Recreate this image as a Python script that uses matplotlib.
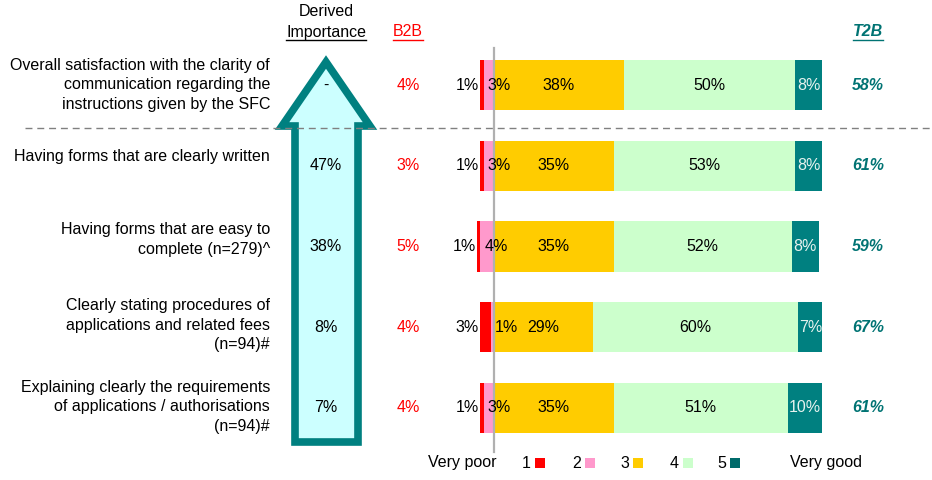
import matplotlib
matplotlib.use("Agg")
import matplotlib.pyplot as plt
from matplotlib.patches import Rectangle, Polygon
from matplotlib.lines import Line2D
import numpy as np

plt.rcParams['font.family'] = ['Liberation Sans', 'DejaVu Sans']

# ---------------- data ----------------
statements = [
    "Overall satisfaction with the clarity of\ncommunication regarding the\ninstructions given by the SFC",
    "Having forms that are clearly written",
    "Having forms that are easy to\ncomplete (n=279)^",
    "Clearly stating procedures of\napplications and related fees\n(n=94)#",
    "Explaining clearly the requirements\nof applications / authorisations\n(n=94)#",
]
derived_importance = ["-", "47%", "38%", "8%", "7%"]
b2b = [4, 3, 5, 4, 4]
t2b = [58, 61, 59, 67, 61]
r1 = [1, 1, 1, 3, 1]
r2 = [3, 3, 4, 1, 3]
r3 = [38, 35, 35, 29, 35]
r4 = [50, 53, 52, 60, 51]
r5 = [8, 8, 8, 7, 10]
scale_labels = ["1", "2", "3", "4", "5"]
colors = ["#ff0000", "#ff99cc", "#ffcc00", "#ccffcc", "#008080"]

W, H = 932, 480
fig = plt.figure(figsize=(W / 100, H / 100), dpi=100)

def px(x, y):
    return (x / W, 1 - y / H)

FS = 11.5
TEAL = "#007373"

# ---------------- bar axes ----------------
ax_l, ax_r, ax_t, ax_b = 440, 900, 40, 460
ax = fig.add_axes([ax_l / W, 1 - ax_b / H, (ax_r - ax_l) / W, (ax_b - ax_t) / H])
ppp = 3.42          # pixels per percent
cx = 494            # centre line pixel
row0, rowstep = 85, 80.75
ax.set_xlim((ax_l - cx) / ppp, (ax_r - cx) / ppp)
ax.set_ylim((ax_b - row0) / rowstep, (ax_t - row0) / rowstep)
ax.axis("off")

y = np.arange(len(statements))
h = 0.62
a1, a2, a3, a4, a5 = (np.array(v, float) for v in (r1, r2, r3, r4, r5))
ax.barh(y, a1, left=-(a1 + a2), height=h, color=colors[0], lw=0)
ax.barh(y, a2, left=-a2, height=h, color=colors[1], lw=0)
ax.barh(y, a3, left=0, height=h, color=colors[2], lw=0)
ax.barh(y, a4, left=a3, height=h, color=colors[3], lw=0)
ax.barh(y, a5, left=a3 + a4, height=h, color=colors[4], lw=0)
ax.axvline(0, ymin=(ax_b - 452) / (ax_b - ax_t), ymax=(ax_b - 48) / (ax_b - ax_t),
           color="#b0b0b0", lw=1.6, zorder=5)

for i in range(len(y)):
    ax.text(-(a1[i] + a2[i]) - 0.4, y[i], f"{r1[i]}%", ha="right", va="center", fontsize=FS, zorder=6)
    ax.text(-a2[i] + 1.2, y[i], f"{r2[i]}%", ha="left", va="center", fontsize=FS, zorder=6)
    ax.text(a3[i] / 2, y[i], f"{r3[i]}%", ha="center", va="center", fontsize=FS, zorder=6)
    ax.text(a3[i] + a4[i] / 2, y[i], f"{r4[i]}%", ha="center", va="center", fontsize=FS, zorder=6)
    ax.text(a3[i] + a4[i] + a5[i] / 2, y[i], f"{r5[i]}%", ha="center", va="center",
            fontsize=FS, color="#e6f2ee", zorder=6)

# ---------------- dashed separator ----------------
fig.add_artist(Line2D([25 / W, 930 / W], [1 - 128 / H] * 2, color="#808080",
                      lw=1.0, ls=(0, (5, 3.5))))

# ---------------- arrow ----------------
pts = [(326, 62), (282, 126), (295, 126), (295, 442), (358, 442), (358, 126), (370, 126)]
arrow = Polygon([px(*p) for p in pts], closed=True, transform=fig.transFigure,
                facecolor="#ccffff", edgecolor="#008080", lw=5.5, joinstyle="miter")
fig.add_artist(arrow)

# ---------------- per-row texts ----------------
label_dy = [0, -9, -7, -2, -1]
for i in range(len(statements)):
    yr = row0 + rowstep * i
    fig.text(*px(270, yr + label_dy[i]), statements[i], ha="right", va="center",
             fontsize=FS, linespacing=1.38, multialignment="right")
    fig.text(*px(326, yr), derived_importance[i], ha="center", va="center", fontsize=FS)
    fig.text(*px(408, yr), f"{b2b[i]}%", ha="center", va="center", fontsize=FS, color="#ff0000")
    fig.text(*px(868, yr), f"{t2b[i]}%", ha="center", va="center", fontsize=FS,
             color=TEAL, weight="bold", style="italic")

# ---------------- headers (underlined) ----------------
headers = []
headers.append(fig.text(*px(326, 12), "Derived", ha="center", va="center", fontsize=FS))
headers.append(fig.text(*px(326, 32), "Importance", ha="center", va="center", fontsize=FS))
headers.append(fig.text(*px(408, 32), "B2B", ha="center", va="center", fontsize=FS, color="#ff0000"))
headers.append(fig.text(*px(868, 32), "T2B", ha="center", va="center", fontsize=FS,
                        color=TEAL, weight="bold", style="italic"))
fig.canvas.draw()
r = fig.canvas.get_renderer()
for t in headers[1:]:
    bb = t.get_window_extent(r)
    yline = bb.y0 - 0.5
    fig.add_artist(Line2D([bb.x0 / W, bb.x1 / W], [yline / H, yline / H],
                          color=t.get_color(), lw=1.0))

# ---------------- legend ----------------
ly = 463
fig.text(*px(428, ly), "Very poor", ha="left", va="center", fontsize=FS)
fig.text(*px(790, ly), "Very good", ha="left", va="center", fontsize=FS)
leg_x = [522, 572, 620, 670, 717]
for lab, c, lx in zip(scale_labels, colors, leg_x):
    fig.text(*px(lx, ly), lab, ha="left", va="center", fontsize=FS)
    x0, y0 = px(lx + 13, ly + 5)
    fig.add_artist(Rectangle((x0, y0), 10 / W, 10 / H, transform=fig.transFigure,
                             facecolor=c if lab != "5" else "#006b6b", lw=0))

fig.savefig("out.png", dpi=100)
